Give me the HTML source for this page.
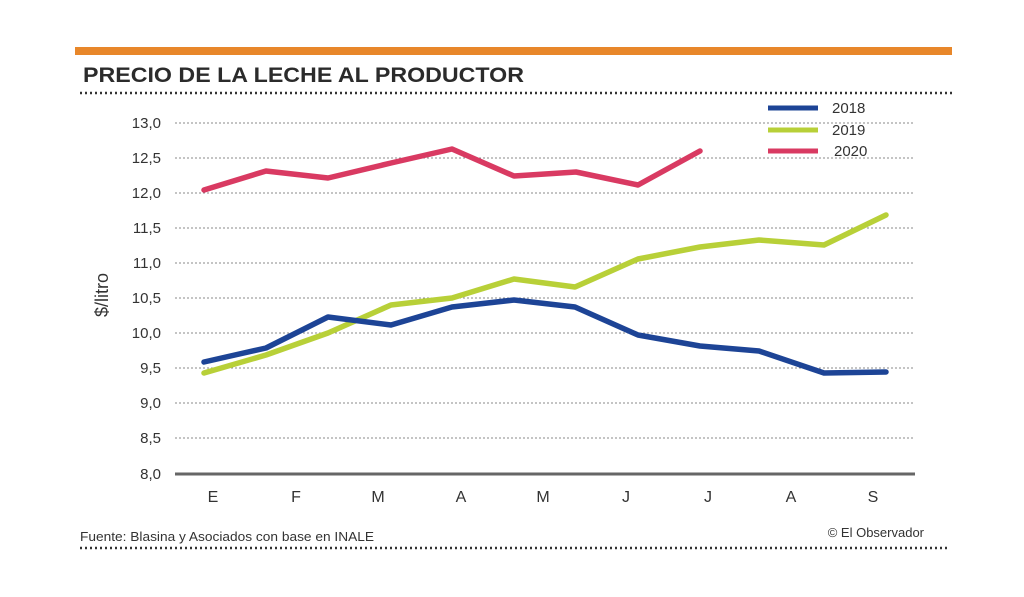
<!DOCTYPE html>
<html><head><meta charset="utf-8"><style>
body{margin:0;background:#fff;}
svg{display:block;font-family:"Liberation Sans Narrow","Liberation Sans",sans-serif;}
</style></head><body>
<svg width="1024" height="597" viewBox="0 0 1024 597">
<rect x="75" y="47" width="877" height="8" fill="#e8872a"/>
<text x="83" y="82" font-family="Liberation Sans" font-weight="bold" font-size="21" fill="#2b2b2b" textLength="441" lengthAdjust="spacingAndGlyphs">PRECIO DE LA LECHE AL PRODUCTOR</text>
<line x1="80" y1="93" x2="952" y2="93" stroke="#333" stroke-width="2.5" stroke-dasharray="2,3"/>
<g stroke="#888" stroke-width="1" stroke-dasharray="2,2">
<line x1="175" y1="123" x2="915" y2="123"/><line x1="175" y1="158" x2="915" y2="158"/>
<line x1="175" y1="193" x2="915" y2="193"/><line x1="175" y1="228" x2="915" y2="228"/>
<line x1="175" y1="263" x2="915" y2="263"/><line x1="175" y1="298" x2="915" y2="298"/>
<line x1="175" y1="333" x2="915" y2="333"/><line x1="175" y1="368" x2="915" y2="368"/>
<line x1="175" y1="403" x2="915" y2="403"/><line x1="175" y1="438" x2="915" y2="438"/>
</g>
<line x1="175" y1="474" x2="915" y2="474" stroke="#666" stroke-width="3"/>
<g font-size="15" fill="#333" text-anchor="end">
<text x="161" y="128">13,0</text><text x="161" y="163">12,5</text><text x="161" y="198">12,0</text>
<text x="161" y="233">11,5</text><text x="161" y="268">11,0</text><text x="161" y="303">10,5</text>
<text x="161" y="338">10,0</text><text x="161" y="373">9,5</text><text x="161" y="408">9,0</text>
<text x="161" y="443">8,5</text><text x="161" y="479">8,0</text>
</g>
<text transform="translate(108,295) rotate(-90)" font-size="18" fill="#333" text-anchor="middle">$/litro</text>
<g font-size="16" fill="#333" text-anchor="middle">
<text x="213" y="502">E</text><text x="296" y="502">F</text><text x="378" y="502">M</text>
<text x="461" y="502">A</text><text x="543" y="502">M</text><text x="626" y="502">J</text>
<text x="708" y="502">J</text><text x="791" y="502">A</text><text x="873" y="502">S</text>
</g>
<g fill="none" stroke-width="5.5" stroke-linejoin="round" stroke-linecap="round">
<polyline stroke="#b8d038" points="204,373 266,355 328,333 391,305 452,298 514,279 575,287 638,259 700,247 759,240 824,245 886,215"/>
<polyline stroke="#1d4496" points="204,362 266,348 328,317 391,325 452,307 514,300 575,307 638,335 700,346 759,351 824,373 886,372"/>
<polyline stroke="#d93a62" points="204,190 266,171 328,178 391,163 452,149 514,176 576,172 638,185 700,151"/>
</g>
<g stroke-width="5">
<line x1="768" y1="108" x2="818" y2="108" stroke="#1d4496"/>
<line x1="768" y1="130" x2="818" y2="130" stroke="#b8d038"/>
<line x1="768" y1="151" x2="818" y2="151" stroke="#d93a62"/>
</g>
<g font-size="15" fill="#333">
<text x="832" y="113">2018</text><text x="832" y="135">2019</text><text x="834" y="156">2020</text>
</g>
<text x="80" y="541" font-size="13" fill="#333" textLength="294" lengthAdjust="spacingAndGlyphs">Fuente: Blasina y Asociados con base en INALE</text>
<text x="924" y="537" font-size="13" fill="#333" text-anchor="end">© El Observador</text>
<line x1="80" y1="548" x2="948" y2="548" stroke="#333" stroke-width="2.5" stroke-dasharray="2,3"/>
</svg>
</body></html>
